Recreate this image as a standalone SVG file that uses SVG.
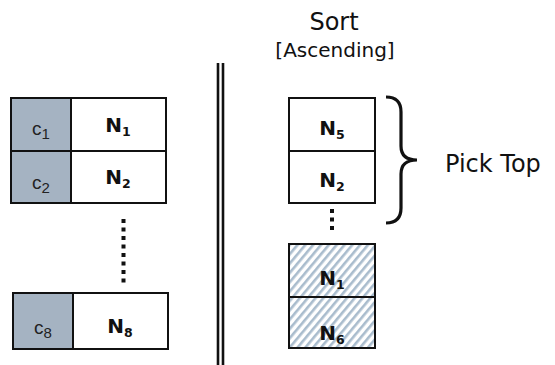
<svg xmlns="http://www.w3.org/2000/svg" width="555" height="365" viewBox="0 0 555 365">
<defs>
<pattern id="hatch" width="6" height="6" patternUnits="userSpaceOnUse" patternTransform="rotate(40)">
<rect width="6" height="6" fill="#ffffff"/>
<rect x="0" y="0" width="2.6" height="6" fill="#a9bccd"/>
</pattern>
<style>
.box{stroke:#111;stroke-width:2}
.key{fill:#a5b3c2}
.val{fill:#ffffff}
.hat{fill:url(#hatch)}
.c{font-family:"Liberation Sans",Arial,sans-serif;font-size:19px;fill:#222;text-anchor:middle}
.cs{font-size:15px}
.n{font-family:"DejaVu Sans",Verdana,sans-serif;font-weight:bold;font-size:20px;fill:#111;text-anchor:middle}
.ns{font-size:12.5px}
.t{font-family:"DejaVu Sans",Verdana,sans-serif;fill:#111}
.dots{stroke:#111;stroke-width:4;stroke-dasharray:4 4.5;fill:none}
.bar{stroke:#111;stroke-width:2.6;fill:none}
</style>
</defs>
<rect width="555" height="365" fill="#ffffff"/>

<g id="title">
<text class="t" x="334" y="30" font-size="24" text-anchor="middle">Sort</text>
<text class="t" x="335" y="57" font-size="20" text-anchor="middle">[Ascending]</text>
</g>

<g id="left-row-1">
<rect class="box key" x="11" y="98" width="60" height="53"/>
<rect class="box val" x="71" y="98" width="95" height="53"/>
<text class="c" x="41" y="135">c<tspan class="cs" dy="4">1</tspan></text>
<text class="n" x="118" y="132">N<tspan class="ns" dy="3.5">1</tspan></text>
</g>
<g id="left-row-2">
<rect class="box key" x="11" y="151" width="60" height="52"/>
<rect class="box val" x="71" y="151" width="95" height="52"/>
<text class="c" x="41" y="189">c<tspan class="cs" dy="4">2</tspan></text>
<text class="n" x="118" y="184">N<tspan class="ns" dy="3.5">2</tspan></text>
</g>
<g id="left-row-8">
<rect class="box key" x="13" y="293" width="60" height="56"/>
<rect class="box val" x="73" y="293" width="95" height="56"/>
<text class="c" x="43" y="334">c<tspan class="cs" dy="4">8</tspan></text>
<text class="n" x="120" y="333">N<tspan class="ns" dy="3.5">8</tspan></text>
</g>

<g id="right-n5">
<rect class="box val" x="289" y="98" width="86" height="53"/>
<text class="n" x="332" y="135">N<tspan class="ns" dy="3.5">5</tspan></text>
</g>
<g id="right-n2">
<rect class="box val" x="289" y="151" width="86" height="52"/>
<text class="n" x="332" y="187">N<tspan class="ns" dy="3.5">2</tspan></text>
</g>
<g id="right-n1">
<rect class="box hat" x="289" y="244" width="86" height="53"/>
<text class="n" x="332" y="285">N<tspan class="ns" dy="3.5">1</tspan></text>
</g>
<g id="right-n6">
<rect class="box hat" x="289" y="297" width="86" height="51"/>
<text class="n" x="332" y="340">N<tspan class="ns" dy="3.5">6</tspan></text>
</g>

<g id="pick-top">
<path d="M386,97 Q401,97 401,112 L401,146 Q401,160 417,160 Q401,160 401,174 L401,208 Q401,223 386,223" fill="none" stroke="#111" stroke-width="3.2"/>
<text class="t" x="445" y="172" font-size="24">Pick Top</text>
</g>

<g id="connectors">
<line class="dots" x1="123.5" y1="219" x2="123.5" y2="287"/>
<line class="dots" x1="332" y1="209" x2="332" y2="234"/>
<line class="bar" x1="218" y1="63" x2="218" y2="365"/>
<line class="bar" x1="223" y1="63" x2="223" y2="365"/>
</g>
</svg>
